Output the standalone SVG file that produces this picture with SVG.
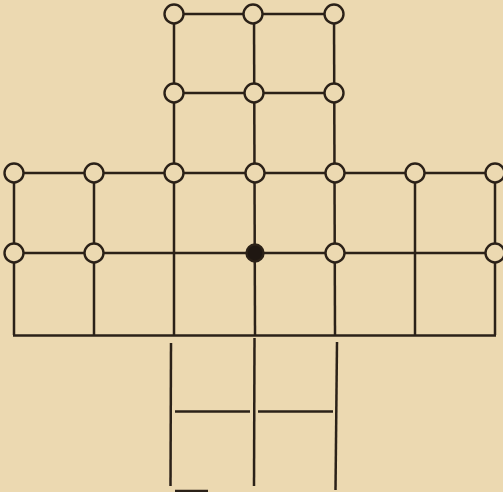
<svg xmlns="http://www.w3.org/2000/svg" width="503" height="492" viewBox="0 0 503 492">
<style>
.bg{fill:#ecd9b1}
.ln{stroke:#2b2118;stroke-width:2.5;fill:none;stroke-linecap:butt}
.pt{fill:#ecd9b1;stroke:#2b2118;stroke-width:2.4}
.pt.black{fill:#1f1712}
</style>
<rect class="bg" x="0" y="0" width="503" height="492"/>
<g id="connectors" class="ln">
<line x1="174" y1="14" x2="334" y2="14"/>
<line x1="174" y1="93" x2="334" y2="93"/>
<line x1="14" y1="173" x2="495" y2="173"/>
<line x1="14" y1="253" x2="495" y2="253"/>
<line x1="13" y1="335.5" x2="496" y2="335.5"/>
<line x1="174" y1="14" x2="174" y2="335"/>
<line x1="254" y1="14" x2="255" y2="335"/>
<line x1="334" y1="14" x2="335" y2="335"/>
<line x1="14" y1="173" x2="14" y2="335"/>
<line x1="94" y1="173" x2="94" y2="335"/>
<line x1="415" y1="173" x2="415" y2="335"/>
<line x1="495" y1="173" x2="495" y2="335"/>
<line x1="171" y1="343" x2="170.5" y2="486"/>
<line x1="254.5" y1="338" x2="254" y2="486"/>
<line x1="337" y1="342" x2="335.5" y2="490"/>
<line x1="175" y1="411.5" x2="250" y2="411.5"/>
<line x1="258" y1="411.5" x2="333" y2="411.5"/>
<line x1="175" y1="491" x2="208" y2="491"/>
</g>
<g id="n1"><circle class="pt" cx="174" cy="14" r="9.5"/></g>
<g id="n2"><circle class="pt" cx="253" cy="14" r="9.5"/></g>
<g id="n3"><circle class="pt" cx="334" cy="14" r="9.5"/></g>
<g id="n4"><circle class="pt" cx="174" cy="93" r="9.5"/></g>
<g id="n5"><circle class="pt" cx="254" cy="93" r="9.5"/></g>
<g id="n6"><circle class="pt" cx="334" cy="93" r="9.5"/></g>
<g id="n7"><circle class="pt" cx="14" cy="173" r="9.5"/></g>
<g id="n8"><circle class="pt" cx="94" cy="173" r="9.5"/></g>
<g id="n9"><circle class="pt" cx="174" cy="173" r="9.5"/></g>
<g id="n10"><circle class="pt" cx="255" cy="173" r="9.5"/></g>
<g id="n11"><circle class="pt" cx="335" cy="173" r="9.5"/></g>
<g id="n12"><circle class="pt" cx="415" cy="173" r="9.5"/></g>
<g id="n13"><circle class="pt" cx="495" cy="173" r="9.5"/></g>
<g id="n14"><circle class="pt" cx="14" cy="253" r="9.5"/></g>
<g id="n15"><circle class="pt" cx="94" cy="253" r="9.5"/></g>
<g id="n16"><circle class="pt black" cx="255" cy="253" r="8.5"/></g>
<g id="n17"><circle class="pt" cx="335" cy="253" r="9.5"/></g>
<g id="n18"><circle class="pt" cx="495" cy="253" r="9.5"/></g>
</svg>
